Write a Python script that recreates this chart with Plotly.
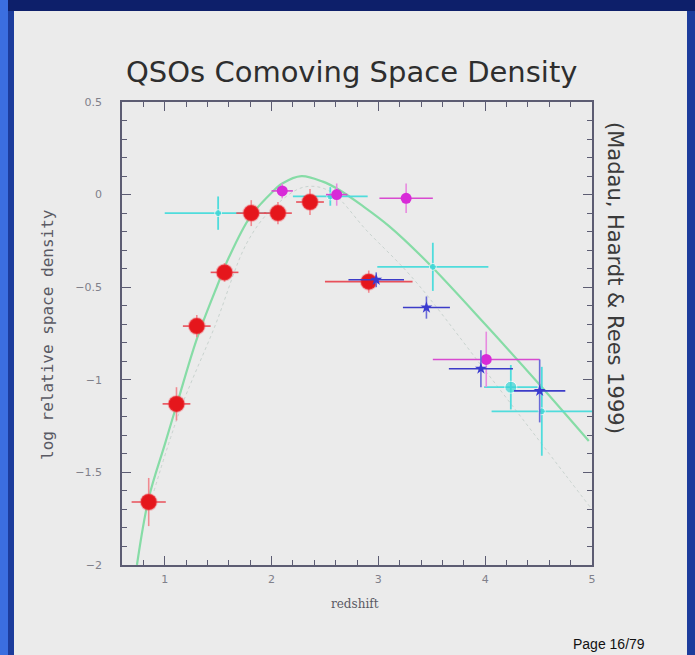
import plotly.graph_objects as go

# ---- data ----
red_x = [0.85, 1.11, 1.30, 1.56, 1.81, 2.06, 2.36, 2.91]
red_y = [-1.66, -1.13, -0.71, -0.42, -0.10, -0.10, -0.04, -0.47]
red_xerr = [0.16, 0.13, 0.13, 0.13, 0.14, 0.13, 0.13, 0.41]
red_yerr = [0.13, 0.09, 0.06, 0.05, 0.07, 0.06, 0.07, 0.06]

mag_x = [2.10, 2.61, 3.26, 4.01]
mag_y = [0.02, 0.00, -0.02, -0.89]
mag_xerr = [0.10, 0.10, 0.25, 0.50]
mag_yerr = [0.04, 0.06, 0.08, 0.15]

cyan_x = [1.50, 2.55, 3.51, 4.24, 4.53]
cyan_y = [-0.10, -0.01, -0.39, -1.04, -1.17]
cyan_xerr = [0.50, 0.35, 0.52, 0.25, 0.47]
cyan_yerr = [0.09, 0.05, 0.13, 0.12, 0.24]
cyan_size = [7, 7, 7, 12, 7]

blue_x = [2.98, 3.45, 3.96, 4.51]
blue_y = [-0.46, -0.61, -0.94, -1.06]
blue_xerr = [0.26, 0.22, 0.30, 0.24]
blue_yerr = [0.04, 0.06, 0.10, 0.17]

fit_x = [0.74, 0.85, 1.0, 1.12, 1.3, 1.5, 1.6, 1.8, 2.0, 2.1, 2.28, 2.48, 2.62, 2.85, 3.1, 3.45, 4.0, 4.5, 4.97]
fit_y = [-2.0, -1.64, -1.35, -1.12, -0.78, -0.48, -0.34, -0.12, 0.01, 0.06, 0.10, 0.07, 0.03, -0.06, -0.17, -0.36, -0.70, -1.02, -1.33]

dot_x = [0.9, 1.14, 1.47, 1.77, 2.0, 2.3, 2.54, 2.9, 3.32, 4.0, 4.76, 5.0]
dot_y = [-1.6, -1.17, -0.71, -0.26, -0.08, 0.04, 0.02, -0.20, -0.45, -0.95, -1.52, -1.70]

title_text = "QSOs Comoving Space Density"
ytitle = "log relative space density"
xtitle = "redshift"
ref_text = "(Madau, Haardt & Rees 1999)"
page_text = "Page 16/79"

W, H = 695, 655
L, R, T, B = 122, 103, 102, 90
pw, ph = W - L - R, H - T - B


def px(x):
    return (x - L) / pw


def py(y):
    return (H - B - y) / ph


fig = go.Figure()

fig.add_trace(go.Scatter(x=dot_x, y=dot_y, mode="lines", line=dict(color="#c9d3cf", width=1, dash="dot", shape="spline"),
                         hoverinfo="skip", showlegend=False))
fig.add_trace(go.Scatter(x=fit_x, y=fit_y, mode="lines", line=dict(color="#86dca6", width=2.2, shape="spline"),
                         hoverinfo="skip", showlegend=False))

fig.add_trace(go.Scatter(
    x=cyan_x, y=cyan_y, mode="markers",
    marker=dict(color="#3ad6d6", size=cyan_size, symbol="circle"),
    error_x=dict(type="data", array=cyan_xerr, color="#4fdcdc", thickness=1.8, width=0),
    error_y=dict(type="data", array=cyan_yerr, color="#4fdcdc", thickness=1.8, width=0),
    showlegend=False))

fig.add_trace(go.Scatter(
    x=red_x, y=red_y, mode="markers",
    marker=dict(color="#e5161c", size=16, symbol="circle", line=dict(color="rgba(240,80,90,0.35)", width=2)),
    error_x=dict(type="data", array=red_xerr, color="#e8505a", thickness=1.6, width=0),
    error_y=dict(type="data", array=red_yerr, color="#f08a90", thickness=1.6, width=0),
    showlegend=False))

fig.add_trace(go.Scatter(
    x=mag_x, y=mag_y, mode="markers",
    marker=dict(color="#d82ad8", size=11, symbol="circle"),
    error_x=dict(type="data", array=mag_xerr, color="#d84ad0", thickness=1.6, width=0),
    error_y=dict(type="data", array=mag_yerr, color="#e88ae0", thickness=1.6, width=0),
    showlegend=False))

fig.add_trace(go.Scatter(
    x=blue_x, y=blue_y, mode="markers",
    marker=dict(color="#3a3ad0", size=9, symbol="star"),
    error_x=dict(type="data", array=blue_xerr, color="#3c3cc8", thickness=1.6, width=0),
    error_y=dict(type="data", array=blue_yerr, color="#6a6ad8", thickness=1.6, width=0),
    showlegend=False))

axis_common = dict(
    showgrid=False, zeroline=False, showline=True, linecolor="#5c5c72", linewidth=1.5,
    mirror="allticks", ticks="inside", tickcolor="#5c5c72", ticklen=9, tickwidth=1.3,
    tickfont=dict(family="DejaVu Sans", size=11, color="#80808a"),
)

fig.update_xaxes(range=[0.6, 5], tickvals=[1, 2, 3, 4, 5], ticktext=["1", "2", "3", "4", "5"],
                 minor=dict(dtick=0.2, tick0=0, ticks="inside", ticklen=5, tickcolor="#5c5c72"),
                 ticklabelstandoff=3, **axis_common)
fig.update_yaxes(range=[-2, 0.5], tickvals=[0.5, 0, -0.5, -1, -1.5, -2],
                 ticktext=["0.5", "0", "\u22120.5", "\u22121", "\u22121.5", "\u22122"],
                 minor=dict(dtick=0.1, tick0=0, ticks="inside", ticklen=5, tickcolor="#5c5c72"),
                 ticklabelstandoff=16, **axis_common)

shapes = [
    # slide body
    dict(type="rect", xref="paper", yref="paper", x0=px(14), x1=px(687), y0=py(655), y1=py(11),
         fillcolor="#ebebeb", line=dict(width=0), layer="below"),
    # bright left edge of the blue frame
    dict(type="rect", xref="paper", yref="paper", x0=px(0), x1=px(8), y0=py(655), y1=py(0),
         fillcolor="#3b6ee0", line=dict(width=0), layer="below"),
    # dark top edge
    dict(type="rect", xref="paper", yref="paper", x0=px(8), x1=px(695), y0=py(11), y1=py(0),
         fillcolor="#0d1f6a", line=dict(width=0), layer="below"),
]

annotations = [
    dict(text=title_text, x=px(351), y=py(72), xref="paper", yref="paper", showarrow=False,
         xanchor="center", yanchor="middle",
         font=dict(family="DejaVu Sans", size=29, color="#2e2e2e")),
    dict(text=ytitle, x=px(47), y=py(335), xref="paper", yref="paper", showarrow=False, textangle=-90,
         xanchor="center", yanchor="middle",
         font=dict(family="DejaVu Sans Mono", size=16, color="#5a5a64")),
    dict(text=xtitle, x=px(355), y=py(604), xref="paper", yref="paper", showarrow=False,
         xanchor="center", yanchor="middle",
         font=dict(family="DejaVu Serif", size=12, color="#5a5a64")),
    dict(text=ref_text, x=px(615), y=py(278), xref="paper", yref="paper", showarrow=False, textangle=90,
         xanchor="center", yanchor="middle",
         font=dict(family="DejaVu Sans", size=21, color="#3a3a3a")),
    dict(text=page_text, x=px(571), y=py(654), xref="paper", yref="paper", showarrow=False,
         xanchor="left", yanchor="bottom",
         font=dict(family="Liberation Sans", size=14, color="#111111")),
]

fig.update_layout(
    width=W, height=H, margin=dict(l=L, r=R, t=T, b=B, autoexpand=False),
    paper_bgcolor="#1c3c9c", plot_bgcolor="rgba(0,0,0,0)",
    shapes=shapes, annotations=annotations, showlegend=False,
)

fig.write_html("out.html")
